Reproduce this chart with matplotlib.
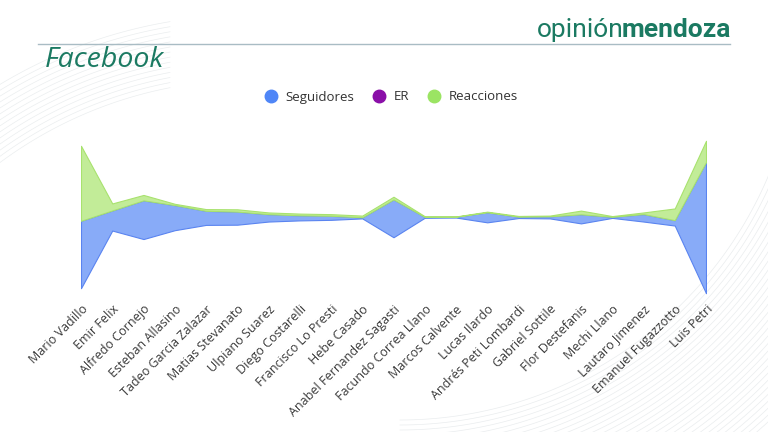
import numpy as np
import matplotlib.pyplot as plt
from matplotlib.lines import Line2D

plt.rcParams['font.family'] = ['Open Sans', 'DejaVu Sans']

candidatos = ['Mario Vadillo', 'Emir Felix', 'Alfredo Cornejo', 'Esteban Allasino',
              'Tadeo Garcia Zalazar', 'Matias Stevanato', 'Ulpiano Suarez',
              'Diego Costarelli', 'Francisco Lo Presti', 'Hebe Casado',
              'Anabel Fernandez Sagasti', 'Facundo Correa Llano', 'Marcos Calvente',
              'Lucas Ilardo', 'Andrés Peti Lombardi', 'Gabriel Sottile',
              'Flor Destefanis', 'Mechi Llano', 'Lautaro Jimenez',
              'Emanuel Fugazzotto', 'Luis Petri']

# valores en miles (estimados)
seguidores = [67.3, 20.0, 38.6, 25.0, 14.0, 13.0, 7.3, 5.0, 4.0, 1.0, 37.7,
              0.7, 0.7, 10.0, 1.3, 2.0, 9.0, 1.0, 7.4, 5.3, 131.0]
er = [0.1, 0.1, 0.1, 0.1, 0.1, 0.1, 0.1, 0.1, 0.1, 0.1, 0.1,
      0.1, 0.1, 0.1, 0.1, 0.1, 0.1, 0.1, 0.1, 0.1, 0.1]
reacciones = [75.0, 7.0, 5.4, 1.3, 1.7, 2.3, 1.7, 1.7, 1.6, 1.7, 2.7,
              0.7, 0.3, 0.6, 0.7, 0.7, 3.7, 0.7, 1.6, 11.7, 21.3]

verde = '#1b7a62'
fig = plt.figure(figsize=(7.68, 4.32), dpi=100)

# fondo decorativo (lineas finas)
bg = fig.add_axes([0, 0, 1, 1], zorder=-1)
bg.set_xlim(0, 768)
bg.set_ylim(432, 0)
bg.axis('off')
for k in range(14):
    r = 420 + k * 5
    ang = np.linspace(np.arccos(-250 / r), np.arccos(-80 / r), 60)
    bg.plot(250 + r * np.cos(ang), 500 - r * np.sin(ang),
            color='#dde2e4', lw=0.5, alpha=0.6)
for k in range(30):
    r = 400 + k * 5
    ang = np.linspace(np.pi * 0.05, np.pi * 0.5, 80)
    bg.plot(400 + r * np.cos(ang), 20 + r * np.sin(ang),
            color='#d4dadd', lw=0.5, alpha=0.5)

t1 = fig.text(537 / 768, 1 - 30 / 432, 'opinión', fontsize=19, color=verde,
              family='Roboto', ha='left', va='center')
fig.canvas.draw()
bb = t1.get_window_extent()
fig.text((bb.x1 - 2) / 768, 1 - 30 / 432, 'mendoza', fontsize=19, color=verde,
         family='Roboto', weight='bold', ha='left', va='center')
fig.add_artist(Line2D([38 / 768, 730 / 768], [1 - 44 / 432, 1 - 44 / 432],
                      color='#a9bcc4', lw=1))
fig.text(45 / 768, 1 - 60 / 432, 'Facebook', fontsize=20.5, color=verde,
         style='italic', ha='left', va='center')

ax = fig.add_axes([81 / 768, 1 - 300 / 432, 625 / 768, 166 / 432])
x = np.arange(len(candidatos))
polys = ax.stackplot(x, seguidores, er, reacciones, baseline='sym',
                     colors=['#88abf8', '#8a0fa8', '#c2ec98'])
polys[0].set_edgecolor('#5a84f0')
polys[0].set_linewidth(0.8)
polys[1].set_linewidth(0)
polys[2].set_edgecolor('#a8e26e')
polys[2].set_linewidth(0.8)

ax.set_xlim(0, len(candidatos) - 1)
ax.set_ylim(-83, 83)
ax.set_yticks([])
ax.set_xticks(x)
ax.set_xticklabels(candidatos, rotation=45, ha='right', rotation_mode='anchor',
                   fontsize=9, color='#3a3a3a')
ax.tick_params(axis='x', length=0, pad=2)
for s in ax.spines.values():
    s.set_visible(False)
ax.patch.set_alpha(0)

handles = [Line2D([], [], marker='o', ls='', markersize=9, color=c)
           for c in ['#4f86f7', '#8a0fa8', '#9be463']]
fig.legend(handles, ['Seguidores', 'ER', 'Reacciones'], loc='center',
           bbox_to_anchor=(0.505, 1 - 97 / 432), ncol=3, frameon=False,
           fontsize=9.5, handletextpad=0.1, columnspacing=0.9, labelcolor='#333333')

fig.savefig('out.png', dpi=100)
